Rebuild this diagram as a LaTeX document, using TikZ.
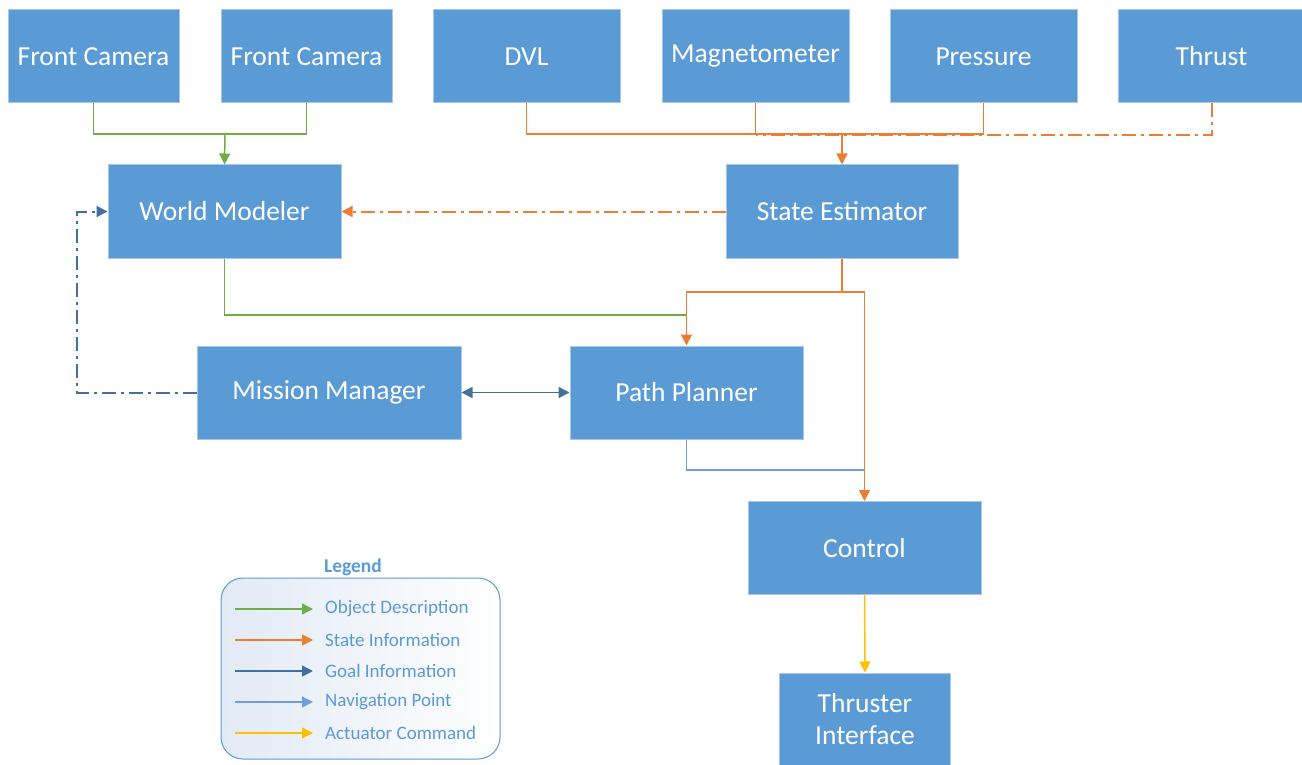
\documentclass[tikz,border=0pt]{standalone}
\usepackage{fontspec}
\setmainfont{Carlito}
\usetikzlibrary{arrows.meta}

\definecolor{boxblue}{HTML}{5B9BD5}
\definecolor{boxedge}{HTML}{A9C7E6}
\definecolor{objgreen}{HTML}{70AD47}
\definecolor{stateorange}{HTML}{ED7D31}
\definecolor{goalblue}{HTML}{41719C}
\definecolor{navblue}{HTML}{6F9FD8}
\definecolor{actyellow}{HTML}{FFC000}
\definecolor{legshade}{HTML}{E2EAF5}

\tikzset{
  block/.style={draw=boxedge, line width=1pt, fill=boxblue, text=white,
    minimum height=93pt, inner sep=0pt, align=center,
    font=\fontsize{27.5}{32}\selectfont},
  flow/.style={-{Triangle[length=11pt,width=11pt]}},
  dashdot/.style={line width=2pt, dash pattern=on 14pt off 5pt on 3pt off 5pt},
  objline/.style={objgreen, line width=1.5pt},
  stateline/.style={stateorange, line width=1.5pt},
  goalline/.style={goalblue, line width=1.5pt},
  navline/.style={navblue, line width=1.2pt},
  actline/.style={actyellow, line width=1.5pt},
  legtext/.style={anchor=west, inner sep=0pt, text=boxblue,
    font=\fontsize{19}{22}\selectfont}
}

\begin{document}
\begin{tikzpicture}[x=1pt, y=-1pt]
\useasboundingbox (0,0) rectangle (1302,765);

% sensors
\node[block, minimum width=171pt] (fcam1) at (93.5,56.5) {Front Camera};
\node[block, minimum width=171pt] (fcam2) at (306.5,56.5) {Front Camera};
\node[block, minimum width=187pt] (dvl) at (526.5,56.5) {DVL};
\node[block, minimum width=187pt] (magneto) at (755.5,56.5) {Magnetometer};
\node[block, minimum width=187pt] (pressure) at (983.5,56.5) {Pressure};
\node[block, minimum width=187pt] (thrust) at (1211.5,56.5) {Thrust};

% processing
\node[block, minimum width=233pt] (world) at (224.5,211.5) {World Modeler};
\node[block, minimum width=232pt] (estimator) at (842,211.5) {State Estimator};
\node[block, minimum width=264pt] (mission) at (329,392.5) {Mission Manager};
\node[block, minimum width=233pt] (planner) at (686.5,392.5) {Path Planner};
\node[block, minimum width=233pt] (control) at (864.5,548) {Control};
\node[block, minimum width=171pt] (thrusterif) at (865,719.5) {Thruster\\Interface};

% junctions
\coordinate (camjoin) at (225,134);
\coordinate (sensjoin) at (842,134);
\coordinate (thrustjoin) at (756,135.5);
\coordinate (estsplit) at (842,292);
\coordinate (worldjoin) at (686.5,315);
\coordinate (planjoin) at (864.5,470);
\coordinate (missturn) at (76.5,392.5);

% object description
\draw[objline] (fcam1.south) |- (camjoin) -| (fcam2.south);
\draw[objline, flow] (camjoin) -- (world.north);
\draw[objline] (world.south) |- (worldjoin);

% navigation point
\draw[navline] (planner.south) |- (planjoin);

% state information
\draw[stateline, dashdot] (thrust.south) |- (thrustjoin);
\draw[stateline] (dvl.south) |- (sensjoin);
\draw[stateline] (magneto.south) |- (sensjoin);
\draw[stateline] (pressure.south) |- (sensjoin);
\draw[stateline, flow] (sensjoin) -- (estimator.north);
\draw[stateline, dashdot, flow] (estimator.west) -- (world.east);
\draw[stateline] (estimator.south) -- (estsplit);
\draw[stateline, flow] (estsplit) -| (planner.north);
\draw[stateline, flow] (estsplit) -| (control.north);

% goal information
\draw[goalline, {Triangle[length=11pt,width=11pt]}-{Triangle[length=11pt,width=11pt]}] (mission.east) -- (planner.west);
\draw[goalline, dashdot, flow] (mission.west) -- (missturn) |- (world.west);

% actuator command
\draw[actline, flow] (control.south) -- (thrusterif.north);

% legend
\node[text=boxblue, font=\bfseries\fontsize{19.5}{22}\selectfont] (legtitle) at (353,567) {Legend};
\node[draw=boxblue, line width=1pt, rounded corners=22pt, left color=legshade, right color=white,
  minimum width=279pt, minimum height=181pt] (legend) at (360.5,668.5) {};
\foreach \i/\yy/\col/\txt in {1/609/objline/Object Description, 2/640/stateline/State Information,
  3/671/goalline/Goal Information, 4/702/navline/Navigation Point, 5/733/actline/Actuator Command}{
  \coordinate (legfrom\i) at (235,\yy);
  \coordinate (legto\i) at (313,\yy);
  \draw[\col, flow] (legfrom\i) -- (legto\i);
  \node[legtext] (legtxt\i) at (325,\yy) {\txt};
}

\end{tikzpicture}
\end{document}
